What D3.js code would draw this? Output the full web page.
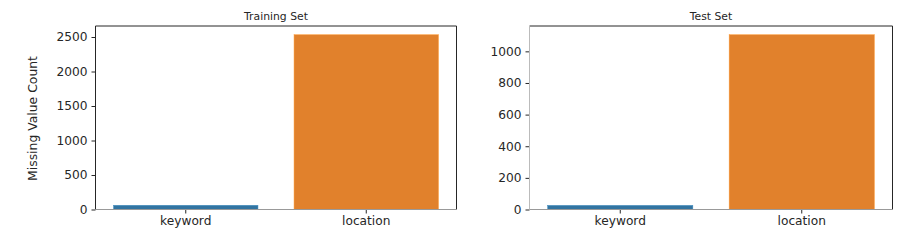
<!DOCTYPE html>
<html>
<head>
<meta charset="utf-8">
<script src="https://cdn.jsdelivr.net/npm/d3@7"></script>
<style>
  body { margin: 0; background: #fff; }
  text { font-family: "DejaVu Sans", sans-serif; fill: #262626; }
</style>
</head>
<body>
<svg width="919" height="245"></svg>
<script>
// missing values per column
const categories = ["keyword", "location"]
const trainValues = [61, 2533]
const testValues = [26, 1105]
const trainTicks = [0, 500, 1000, 1500, 2000, 2500]
const testTicks = [0, 200, 400, 600, 800, 1000]
const colors = ["#3274a1", "#e1812c"]

var svg = d3.select("svg")

function panel(opts) {
  var left = opts.left, right = opts.right, top = 26, bottom = 209.5
  var g = svg.append("g")

  var x = d3.scaleBand().domain(categories).range([left, right]).paddingInner(0.2).paddingOuter(0.1)
  var ymax = d3.max(opts.values) * 1.05
  var y = d3.scaleLinear().domain([0, ymax]).range([bottom, top])

  g.selectAll("rect.bar")
    .data(opts.values)
    .enter().append("rect")
    .attr("class", "bar")
    .attr("x", (d, i) => x(categories[i]))
    .attr("width", x.bandwidth())
    .attr("y", d => y(d))
    .attr("height", d => y(0) - y(d))
    .attr("fill", (d, i) => colors[i])
    .attr("stroke", (d, i) => d3.color(colors[i]).brighter(0.5))
    .attr("stroke-width", 0.5)

  var yAxis = g.append("g")
    .attr("transform", "translate(" + left + ",0)")
    .call(d3.axisLeft(y).tickValues(opts.ticks).tickFormat(d3.format("d")).tickSize(4).tickPadding(4))
  yAxis.select(".domain").remove()
  yAxis.selectAll("line").attr("stroke", "#262626")
  yAxis.selectAll("text").attr("font-size", 12.2).attr("font-family", "DejaVu Sans").attr("fill", "#262626")

  var xAxis = g.append("g")
    .attr("transform", "translate(0," + bottom + ")")
    .call(d3.axisBottom(x).tickSize(4).tickPadding(3))
  xAxis.select(".domain").remove()
  xAxis.selectAll("line").attr("stroke", "#262626")
  xAxis.selectAll("text").attr("font-size", 12.2).attr("font-family", "DejaVu Sans").attr("fill", "#262626")

  // spines
  g.append("line").attr("x1", left).attr("x2", right).attr("y1", top).attr("y2", top).attr("stroke", "#262626")
  g.append("line").attr("x1", right).attr("x2", right).attr("y1", top).attr("y2", bottom).attr("stroke", "#262626")
  g.append("line").attr("x1", left).attr("x2", left).attr("y1", top).attr("y2", bottom).attr("stroke", opts.leftSpine)
  g.append("line").attr("x1", left).attr("x2", right).attr("y1", bottom).attr("y2", bottom).attr("stroke", "#999")

  g.append("text")
    .attr("x", (left + right) / 2)
    .attr("y", 20)
    .attr("text-anchor", "middle")
    .attr("font-size", 10.8)
    .text(opts.title)
}

panel({left: 95.5, right: 456.5, values: trainValues, ticks: trainTicks, title: "Training Set", leftSpine: "#262626"})
panel({left: 529.5, right: 892.5, values: testValues, ticks: testTicks, title: "Test Set", leftSpine: "#bbb"})

svg.append("text")
  .attr("transform", "translate(37,118.5) rotate(-90)")
  .attr("text-anchor", "middle")
  .attr("font-size", 12.4)
  .text("Missing Value Count")
</script>
</body>
</html>
